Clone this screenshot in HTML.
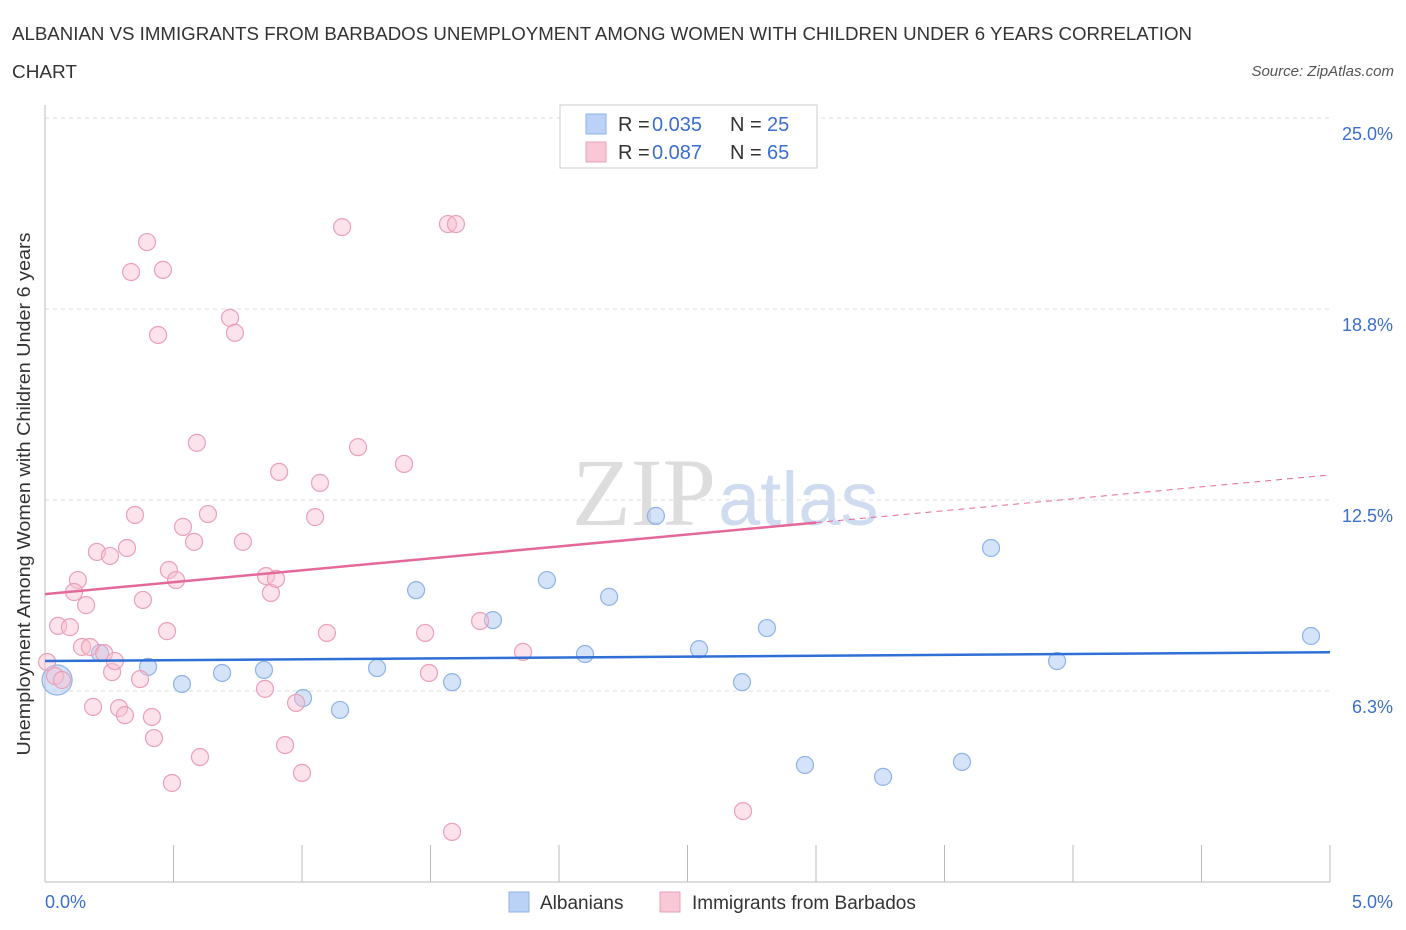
<!DOCTYPE html>
<html><head><meta charset="utf-8"><style>
body{margin:0;background:#fff;font-family:"Liberation Sans",sans-serif;}
#wrap{position:relative;width:1406px;height:930px;overflow:hidden;}
</style></head><body><div id="wrap">
<svg id="chart" width="1406" height="930" xmlns="http://www.w3.org/2000/svg">
<text x="12" y="40" font-size="18" fill="#333" textLength="1180" lengthAdjust="spacingAndGlyphs">ALBANIAN VS IMMIGRANTS FROM BARBADOS UNEMPLOYMENT AMONG WOMEN WITH CHILDREN UNDER 6 YEARS CORRELATION</text>
<text x="12" y="78" font-size="18" fill="#333" textLength="65" lengthAdjust="spacingAndGlyphs">CHART</text>
<text x="1394" y="76" font-size="15" fill="#555" font-style="italic" text-anchor="end">Source: ZipAtlas.com</text>
<text x="716" y="525" font-size="96" fill="#ddd" text-anchor="end" font-family="Liberation Serif,serif">ZIP</text>
<text x="718" y="525" font-size="76" fill="#cfdcf0">atlas</text>
<g id="grid"></g><g id="axes"></g><g id="marks"></g>
<text x="30" y="494" font-size="18" fill="#333" text-anchor="middle" textLength="523" lengthAdjust="spacingAndGlyphs" transform="rotate(-90 30 494)">Unemployment Among Women with Children Under 6 years</text>
<rect x="560" y="105" width="257" height="63" fill="#fff" stroke="#ccc"/>
<rect x="586" y="114" width="20" height="20" fill="#b9d2f5" stroke="#8fb2e8"/>
<text y="131" font-size="20" fill="#333"><tspan x="618">R =</tspan><tspan x="652" fill="#3a6fd0">0.035</tspan><tspan x="730">N =</tspan><tspan x="767" fill="#3a6fd0">25</tspan></text>
<rect x="586" y="142" width="20" height="20" fill="#f8c8d6" stroke="#eaa0b8"/>
<text y="159" font-size="20" fill="#333"><tspan x="618">R =</tspan><tspan x="652" fill="#3a6fd0">0.087</tspan><tspan x="730">N =</tspan><tspan x="767" fill="#3a6fd0">65</tspan></text>
<rect x="509" y="892" width="20" height="20" fill="#b9d2f5" stroke="#8fb2e8"/>
<text x="540" y="909" font-size="19" fill="#333">Albanians</text>
<rect x="660" y="892" width="20" height="20" fill="#f8c8d6" stroke="#eaa0b8"/>
<text x="692" y="909" font-size="19" fill="#333">Immigrants from Barbados</text>
<text x="45" y="908" font-size="18" fill="#3a6fd0">0.0%</text>
<text x="1393" y="908" font-size="18" fill="#3a6fd0" text-anchor="end">5.0%</text>
</svg></div>
<script>
const yTicks=[25,18.75,12.5,6.25];
const yTickLabels=["25.0%","18.8%","12.5%","6.3%"];
const blueX=[0.047,0.214,0.401,0.533,0.689,0.852,1.004,1.148,1.292,1.444,1.584,1.743,1.953,2.101,2.195,2.377,2.545,2.712,2.809,2.957,3.261,3.568,3.681,3.938,4.926];
const blueY=[6.61,7.49,7.04,6.48,6.84,6.94,6.02,5.63,7.00,9.55,6.54,8.57,9.88,7.46,9.33,11.98,7.62,6.54,8.31,3.83,3.44,3.93,10.93,7.23,8.05];
const pinkX=[0.008,0.039,0.066,0.051,0.097,0.128,0.113,0.160,0.144,0.175,0.187,0.202,0.230,0.253,0.261,0.272,0.288,0.311,0.319,0.335,0.350,0.370,0.381,0.397,0.416,0.424,0.440,0.459,0.475,0.482,0.494,0.510,0.537,0.580,0.591,0.603,0.634,0.720,0.739,0.770,0.856,0.860,0.879,0.899,0.911,0.934,0.977,1.000,1.051,1.070,1.097,1.156,1.218,1.397,1.479,1.494,1.568,1.584,1.599,1.693,1.860,2.716];
const pinkY=[7.20,6.74,6.61,8.38,8.34,9.88,9.49,9.06,7.69,7.69,5.73,10.80,7.49,10.67,6.87,7.23,5.69,5.46,10.93,19.96,12.01,6.64,9.23,20.94,5.40,4.71,17.90,20.03,8.21,10.21,3.24,9.88,11.62,11.13,14.37,4.09,12.04,18.46,17.97,11.13,6.32,10.01,9.46,9.92,13.42,4.48,5.86,3.57,11.94,13.06,8.15,21.43,14.23,13.68,8.15,6.84,21.53,1.64,21.53,8.54,7.53,2.32];
const blueTrend=[7.23,7.52];
const pinkTrend=[9.42,13.32];
const pinkSolidEnd=3.0;
const NS="http://www.w3.org/2000/svg";
const sx=v=>45+v*257, sy=v=>118+(25-v)*30.56;
function mk(tag,attrs,parent){const e=document.createElementNS(NS,tag);for(const k in attrs)e.setAttribute(k,attrs[k]);document.getElementById(parent).appendChild(e);return e;}
yTicks.forEach((t,i)=>{
 const l=mk('line',{x1:45,x2:1330,y1:sy(t),y2:sy(t),stroke:'#ddd','stroke-dasharray':'4,4'},'grid');
 
 
 const tx=mk('text',{x:1393,y:sy(t)+22,'font-size':18,fill:'#3a6fd0','text-anchor':'end'},'grid');
 tx.textContent=yTickLabels[i];
 
 
});
const ax=mk('line',{x1:45,x2:45,y1:105,y2:882,stroke:'#bbb'},'axes');


const bx=mk('line',{x1:45,x2:1330,y1:882,y2:882,stroke:'#bbb'},'axes');


for(let i=0;i<=10;i++){const t=mk('line',{x1:sx(i*0.5),x2:sx(i*0.5),y1:845,y2:882,stroke:'#bbb'},'axes');
 
 }
blueX.forEach((x,i)=>{const big=i===0;const c=mk('circle',{cx:sx(x),cy:sy(blueY[i]),r:big?15:8.5,fill:'rgba(170,200,242,0.5)',stroke:'#8fb2e8','stroke-width':1.2},'marks');
 
 });
pinkX.forEach((x,i)=>{const c=mk('circle',{cx:sx(x),cy:sy(pinkY[i]),r:8.5,fill:'rgba(248,190,208,0.45)',stroke:'#eaa0b8','stroke-width':1.2},'marks');
 
 });
const bl=mk('line',{x1:sx(0),x2:sx(5),y1:sy(blueTrend[0]),y2:sy(blueTrend[1]),stroke:'#2f6fd6','stroke-width':2.5},'marks');


const pAt=x=>pinkTrend[0]+(pinkTrend[1]-pinkTrend[0])*x/5;
const pl=mk('line',{x1:sx(0),x2:sx(pinkSolidEnd),y1:sy(pAt(0)),y2:sy(pAt(pinkSolidEnd)),stroke:'#e4699a','stroke-width':2.5},'marks');


const pd=mk('line',{x1:sx(pinkSolidEnd),x2:sx(5),y1:sy(pAt(pinkSolidEnd)),y2:sy(pAt(5)),stroke:'#e4699a','stroke-width':1,'stroke-dasharray':'6,5'},'marks');


</script></body></html>
